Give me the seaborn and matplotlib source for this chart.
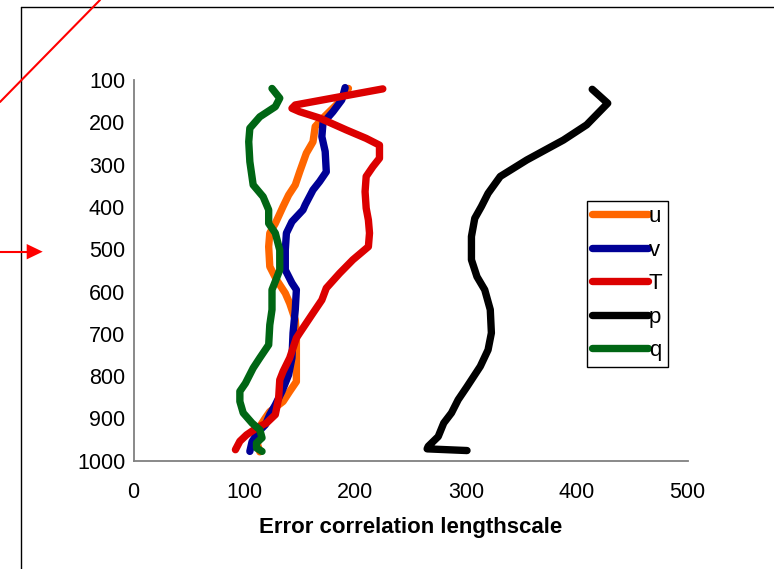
import matplotlib
matplotlib.use("Agg")
import matplotlib.pyplot as plt
from matplotlib.lines import Line2D
from matplotlib.patches import Polygon
import seaborn as sns
import pandas as pd

# ---- data ----
u_x = [194, 183, 171, 164, 162, 156, 150, 146, 140, 135, 128, 123, 122, 123, 129, 137, 141, 146, 147, 147, 147, 141, 135, 123, 119, 112, 112, 114]
u_p = [120, 159, 190, 210, 246, 273, 317, 348, 372, 399, 439, 462, 494, 541, 572, 604, 628, 667, 702, 765, 813, 836, 860, 884, 899, 927, 962, 979]

v_x = [191, 188, 180, 171, 170, 173, 174, 168, 162, 155, 153, 143, 138, 137, 137, 143, 147, 146, 144, 143, 140, 134, 128, 123, 119, 113, 107, 105]
v_p = [118, 147, 175, 202, 234, 269, 317, 340, 360, 395, 407, 435, 462, 502, 549, 580, 596, 643, 698, 757, 797, 836, 868, 891, 915, 931, 955, 978]

T_x = [225, 146, 143, 150, 168, 192, 210, 222, 222, 216, 210, 209, 210, 212, 213, 212, 198, 186, 174, 170, 162, 150, 147, 141, 135, 132, 131, 128, 120, 111, 102, 96, 92]
T_p = [121, 159, 167, 175, 190, 218, 238, 254, 285, 305, 328, 364, 403, 431, 462, 494, 525, 557, 592, 620, 651, 698, 710, 757, 789, 809, 852, 891, 911, 923, 939, 954, 974]

p_x = [414, 428, 409, 388, 355, 331, 320, 314, 308, 305, 305, 310, 317, 322, 323, 320, 313, 301, 293, 287, 280, 275, 266, 265, 301]
p_p = [122, 155, 206, 242, 289, 328, 368, 399, 427, 470, 525, 565, 596, 643, 698, 738, 777, 825, 856, 887, 911, 943, 966, 972, 976]

q_x = [125, 132, 128, 114, 105, 104, 105, 108, 117, 122, 122, 128, 132, 132, 128, 125, 125, 123, 122, 114, 108, 101, 96, 96, 99, 107, 114, 116, 111, 111, 116]
q_p = [120, 143, 163, 187, 214, 246, 293, 348, 376, 407, 439, 462, 502, 549, 576, 596, 643, 679, 726, 757, 781, 817, 836, 860, 887, 911, 927, 946, 958, 970, 978]

series_names = ["u", "v", "T", "p", "q"]
series_colors = ["#FF6600", "#000096", "#DC0000", "#000000", "#006614"]
x_ticks = [0, 100, 200, 300, 400, 500]
y_ticks = [100, 200, 300, 400, 500, 600, 700, 800, 900, 1000]
x_label = "Error correlation lengthscale"

# ---- build long table ----
frames = []
for name, xs, ps in zip(series_names, [u_x, v_x, T_x, p_x, q_x], [u_p, v_p, T_p, p_p, q_p]):
    frames.append(pd.DataFrame({"length": xs, "pressure": ps, "series": name}))
df = pd.concat(frames, ignore_index=True)

sns.set_style("white")
plt.rcParams["font.family"] = ["Liberation Sans", "DejaVu Sans"]
plt.rcParams["text.color"] = "black"
plt.rcParams["axes.labelcolor"] = "black"
plt.rcParams["xtick.color"] = "black"
plt.rcParams["ytick.color"] = "black"

fig = plt.figure(figsize=(7.74, 5.69), dpi=100)
ax = fig.add_axes([133.5 / 774, 1 - 460.7 / 569, (687.5 - 133.5) / 774, (460.7 - 80) / 569])

palette = dict(zip(series_names, series_colors))
sns.lineplot(data=df, x="length", y="pressure", hue="series", hue_order=series_names,
             palette=palette, sort=False, estimator=None, units="series",
             linewidth=5.3, legend=False, ax=ax,
             solid_capstyle="round", solid_joinstyle="round")

ax.set_xlim(0, 500)
ax.set_ylim(1000, 100)
ax.set_xticks(x_ticks)
ax.set_yticks(y_ticks)
ax.set_xlabel(x_label, fontsize=16, fontweight="bold", labelpad=10, color="black")
ax.set_ylabel("")
sns.despine(ax=ax)
for s in ["left", "bottom"]:
    ax.spines[s].set_color("#808080")
    ax.spines[s].set_linewidth(1.3)
ax.tick_params(axis="both", direction="out", length=4.5, width=1, color="#808080",
               labelsize=15.5, labelcolor="black")
ax.tick_params(axis="x", pad=11)
ax.tick_params(axis="y", pad=1.5)
ax.grid(False)

handles = [Line2D([0], [0], color=c, lw=5.3, solid_capstyle="round") for c in series_colors]
leg = ax.legend(handles, series_names, loc="upper left",
                bbox_to_anchor=(586.7 / 774, 1 - 200.7 / 569), bbox_transform=fig.transFigure,
                frameon=True, fancybox=False, edgecolor="black", framealpha=1,
                fontsize=16, handlelength=2.5, handletextpad=0.05, labelspacing=0.56,
                borderpad=0.25, borderaxespad=0)
leg.get_frame().set_linewidth(1)
for t in leg.get_texts():
    t.set_color("black")

# ---- annotation marks around the chart ----
W, H = 774.0, 569.0
fig.add_artist(Line2D([20.7 / W, 20.7 / W], [0, 1 - 6.7 / H], transform=fig.transFigure, color="black", lw=1))
fig.add_artist(Line2D([20.7 / W, 1], [1 - 6.7 / H, 1 - 6.7 / H], transform=fig.transFigure, color="black", lw=1))
fig.add_artist(Line2D([0, 100 / W], [1 - 102 / H, 1], transform=fig.transFigure, color="#FF0000", lw=1.5))
fig.add_artist(Line2D([0, 28 / W], [1 - 251.7 / H, 1 - 251.7 / H], transform=fig.transFigure, color="#FF0000", lw=1.5))
fig.add_artist(Polygon([[26.7 / W, 1 - 244 / H], [26.7 / W, 1 - 259.4 / H], [42.7 / W, 1 - 251.7 / H]],
                       closed=True, transform=fig.transFigure, color="#FF0000", lw=0))

fig.savefig("out.png", dpi=100)
